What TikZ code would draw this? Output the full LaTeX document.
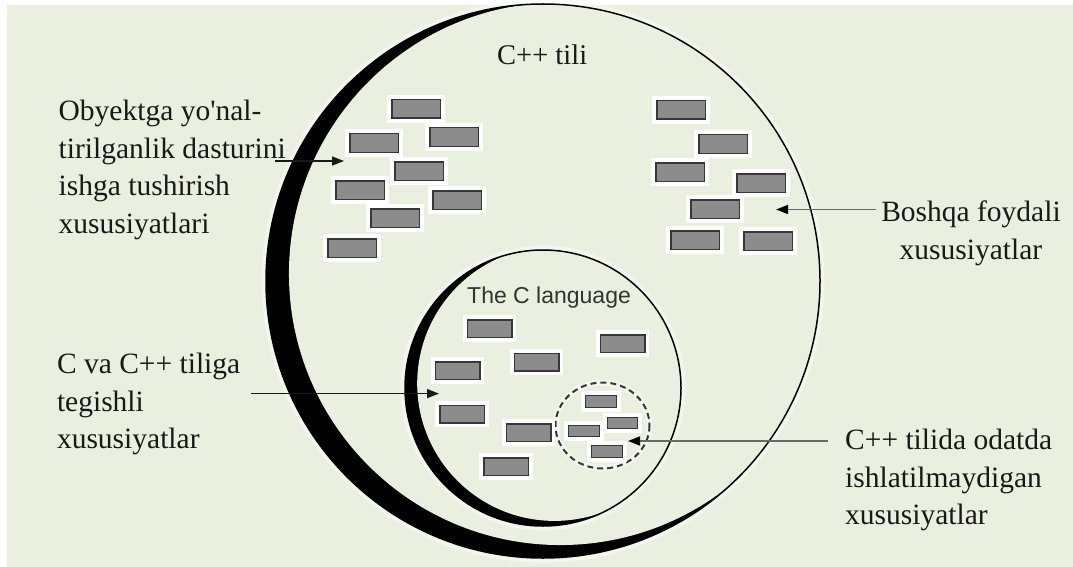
\documentclass[tikz,border=0pt]{standalone}
\usepackage{fontspec}
\setmainfont{Liberation Serif}
\newfontfamily\labelsans{Liberation Sans}
\usetikzlibrary{arrows.meta}
\definecolor{bgc}{RGB}{233,240,223}
\definecolor{brickfill}{RGB}{140,140,140}
\definecolor{brickline}{RGB}{55,55,55}
\definecolor{txt}{RGB}{25,25,25}
\definecolor{arrgray}{RGB}{105,105,105}
\begin{document}
\begin{tikzpicture}[x=1pt,y=-1pt,
  brick/.style={draw=brickline, fill=brickfill, line width=1.5pt, minimum width=48.5pt, minimum height=18.5pt, inner sep=0pt, preaction={draw=white, line width=9pt}},
  cbrick/.style={brick, minimum width=44.5pt, minimum height=17.5pt},
  sbrick/.style={brick, line width=1.3pt, minimum width=30.5pt, minimum height=11.5pt, preaction={draw=white, line width=6pt}},
  lbl/.style={font=\fontsize{29.5}{37.5}\selectfont, text=txt, inner sep=0pt, align=left, anchor=base west},
  halo/.style={draw=white, opacity=0.45, line width=9pt},
  arr/.style={line width=1.6pt, draw=txt, -{Triangle[length=12pt,width=9pt]}},
  arrg/.style={line width=1.6pt, draw=arrgray, -{Triangle[length=12pt,width=9pt,color=black]}}
]
\useasboundingbox (0,0) rectangle (1073,567);
\fill[white] (0,0) rectangle (1073,567);
\fill[bgc] (7,5) rectangle (1073,567);

% big circle (C++) with crescent
\draw[halo] (543,281) circle[radius=277];
\begin{scope}
  \clip (543,281) circle[radius=277];
  \draw[halo] (560.3,273.7) circle[radius=271.35];
  \fill[black] (543,281) circle[radius=277];
  \fill[bgc] (560.3,273.7) circle[radius=271.35];
\end{scope}
\draw[line width=1.5pt] (543,281) circle[radius=277];

% inner circle (C) with crescent
\draw[halo] (543,388) circle[radius=138];
\begin{scope}
  \clip (543,388) circle[radius=138];
  \fill[black] (543,388) circle[radius=138];
  \fill[bgc] (554.5,383.6) circle[radius=137.3];
\end{scope}
\draw[line width=1.5pt] (543,388) circle[radius=138];

% dashed circle
\draw[halo, line width=6pt] (602.5,425.5) ellipse[x radius=47, y radius=43];
\draw[draw=brickline, line width=2pt, dash pattern=on 6pt off 4pt] (602.5,425.5) ellipse[x radius=47, y radius=43];

% left group bricks
\node[brick] (l1) at (416,109) {};
\node[brick] (l2) at (374,143) {};
\node[brick] (l3) at (454,137) {};
\node[brick] (l4) at (419,171) {};
\node[brick] (l5) at (360,190) {};
\node[brick] (l6) at (457,200) {};
\node[brick] (l7) at (395,218) {};
\node[brick] (l8) at (352,248) {};

% right group bricks
\node[brick] (r1) at (681,110) {};
\node[brick] (r2) at (723,144) {};
\node[brick] (r3) at (680,172) {};
\node[brick] (r4) at (761,183) {};
\node[brick] (r5) at (715,209) {};
\node[brick] (r6) at (695,240) {};
\node[brick] (r7) at (768,241) {};

% C language bricks
\node[cbrick] (c1) at (489.5,328.5) {};
\node[cbrick] (c2) at (622.5,343.5) {};
\node[cbrick] (c3) at (536.5,362) {};
\node[cbrick] (c4) at (457.5,370.5) {};
\node[cbrick] (c5) at (462,414) {};
\node[cbrick] (c6) at (528.5,432.5) {};
\node[cbrick] (c7) at (506,466.5) {};

% small bricks in dashed circle
\node[sbrick] (s1) at (601,401.5) {};
\node[sbrick] (s2) at (622.5,423) {};
\node[sbrick] (s3) at (584,431) {};
\node[sbrick] (s4) at (607,451.5) {};

% texts (base anchor = baseline of last line)
\node[lbl, font=\fontsize{28.5}{34}\selectfont] (cpp) at (497,65) {C++ tili};
\node[font=\labelsans\fontsize{23}{27}\selectfont, text=black!80, inner sep=0pt, anchor=base west] (clang) at (467,303) {The C language};
\node[lbl] (oop) at (58.5,233) {Obyektga yo\textquotesingle nal-\\tirilganlik dasturini\\ishga tushirish\\xususiyatlari};
\node[lbl, align=center, anchor=base] (other) at (971,259.3) {Boshqa foydali\\xususiyatlar};
\node[lbl] (both) at (56.8,448.7) {C va C++ tiliga\\tegishli\\xususiyatlar};
\node[lbl] (unused) at (845,524.7) {C++ tilida odatda\\ishlatilmaydigan\\xususiyatlar};

% arrows
\coordinate (t1) at (275,161);
\coordinate (h1) at (344,161);
\coordinate (t2) at (876,209.5);
\coordinate (h2) at (776,209.5);
\coordinate (t3) at (251,393.6);
\coordinate (h3) at (439,393.6);
\coordinate (t4) at (828,441);
\coordinate (h4) at (628,441);
\draw[arr] (t1) -- (h1);
\draw[arrg] (t2) -- (h2);
\draw[arr] (t3) -- (h3);
\draw[arrg] (t4) -- (h4);
\end{tikzpicture}
\end{document}
